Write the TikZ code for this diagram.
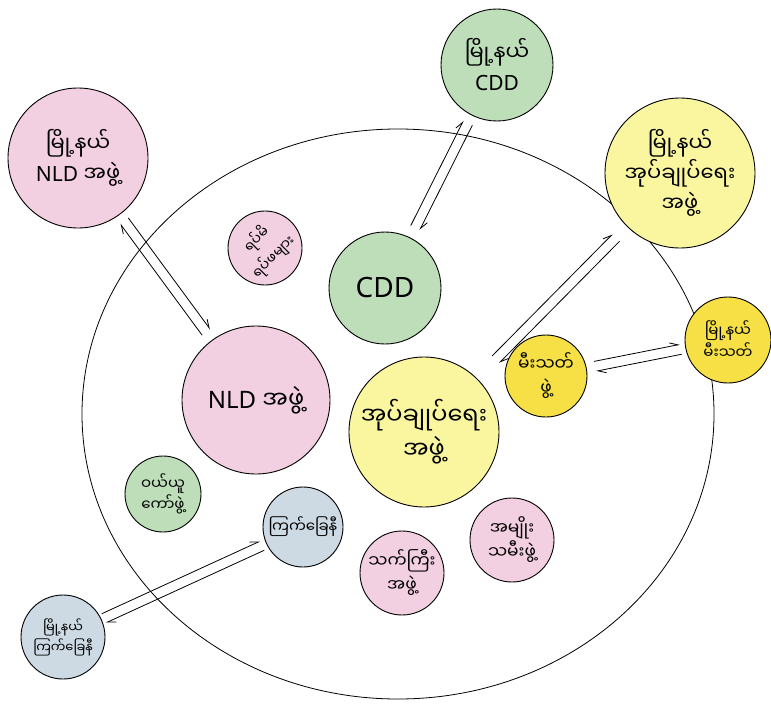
\documentclass[tikz,border=0pt]{standalone}
\usepackage{fontspec}
\setmainfont{Noto Sans}
\newfontfamily\mya[Script=Myanmar]{Noto Sans Myanmar UI}
\usetikzlibrary{arrows.meta,calc}
\definecolor{chappink}{RGB}{242,208,226}
\definecolor{chapgreen}{RGB}{190,222,186}
\definecolor{chapyellow}{RGB}{250,246,160}
\definecolor{chapgold}{RGB}{246,224,70}
\definecolor{chapblue}{RGB}{205,218,228}
\newcommand\lat[1]{{\rmfamily #1}}

\begin{document}
\begin{tikzpicture}[x=1pt,y=-1pt,
  grp/.style={circle,draw=black,line width=0.9pt,inner sep=0pt,align=center,
    font=\mya\fontsize{21}{30}\selectfont},
  smallgrp/.style={grp,font=\mya\fontsize{17}{24}\selectfont},
  flow/.style={line width=0.8pt,-{Straight Barb[harpoon,length=8pt,width=7pt]}}
]
\useasboundingbox (0,0) rectangle (771,709);

% village boundary
\draw[line width=0.8pt] (398,414) ellipse [x radius=316,y radius=285];

% township level (outside)
\node[grp,fill=chappink,minimum size=140pt] (twnnld) at (78,158) {မြို့နယ်\\\lat{NLD} အဖွဲ့};
\node[grp,fill=chapgreen,minimum size=112pt] (twncdd) at (497,65) {မြို့နယ်\\\lat{CDD}};
\node[grp,fill=chapyellow,minimum size=150pt] (twnadm) at (680,173) {မြို့နယ်\\အုပ်ချုပ်ရေး\\အဖွဲ့};
\node[smallgrp,fill=chapgold,minimum size=86pt,font=\mya\fontsize{15}{22}\selectfont] (twnfire) at (728,340) {မြို့နယ်\\မီးသတ်};
\node[smallgrp,fill=chapblue,minimum size=84pt,font=\mya\fontsize{13}{20}\selectfont] (twnred) at (63,637) {မြို့နယ်\\ကြက်ခြေနီ};

% village level (inside)
\node[smallgrp,fill=chappink,minimum size=74pt,font=\mya\fontsize{14}{24}\selectfont,rotate=45] (elders) at (265,248) {ရပ်မိ\\ရပ်ဖများ};
\node[grp,fill=chapgreen,minimum size=112pt,font=\fontsize{28}{30}\selectfont] (cdd) at (385,288) {CDD};
\node[grp,fill=chappink,minimum size=148pt,font=\mya\fontsize{24}{30}\selectfont] (nld) at (256,400) {\lat{NLD} အဖွဲ့};
\node[grp,fill=chapyellow,minimum size=150pt,font=\mya\fontsize{24}{34}\selectfont] (adm) at (424,432) {အုပ်ချုပ်ရေး\\အဖွဲ့};
\node[smallgrp,fill=chapgold,minimum size=82pt] (fire) at (546,376) {မီးသတ်\\ဖွဲ့};
\node[smallgrp,fill=chapgreen,minimum size=76pt,font=\mya\fontsize{15}{21}\selectfont] (buyers) at (163,494) {ဝယ်ယူ\\ကော်ဖွဲ့};
\node[smallgrp,fill=chapblue,minimum size=80pt,font=\mya\fontsize{15}{21}\selectfont] (redx) at (303,527) {ကြက်ခြေနီ};
\node[smallgrp,fill=chappink,minimum size=84pt] (aged) at (402,573) {သက်ကြီး\\အဖွဲ့};
\node[smallgrp,fill=chappink,minimum size=84pt] (women) at (512,540) {အမျိုး\\သမီးဖွဲ့};

% two-way links
\draw[flow] ($(twnnld)!0.26!(nld)!5pt!90:(nld)$) -- ($(twnnld)!0.72!(nld)!5pt!90:(nld)$);
\draw[flow] ($(nld)!0.28!(twnnld)!5pt!90:(twnnld)$) -- ($(nld)!0.74!(twnnld)!5pt!90:(twnnld)$);
\draw[flow] ($(cdd)!0.27!(twncdd)!5pt!90:(twncdd)$) -- ($(cdd)!0.74!(twncdd)!5pt!90:(twncdd)$);
\draw[flow] ($(twncdd)!0.26!(cdd)!5pt!90:(cdd)$) -- ($(twncdd)!0.73!(cdd)!5pt!90:(cdd)$);
\draw[flow] ($(adm)!0.28!(twnadm)!5pt!90:(twnadm)$) -- ($(adm)!0.75!(twnadm)!5pt!90:(twnadm)$);
\draw[flow] ($(twnadm)!0.25!(adm)!5pt!90:(adm)$) -- ($(twnadm)!0.72!(adm)!5pt!90:(adm)$);
\draw[flow] ($(fire)!0.27!(twnfire)!5pt!90:(twnfire)$) -- ($(fire)!0.74!(twnfire)!5pt!90:(twnfire)$);
\draw[flow] ($(twnfire)!0.26!(fire)!5pt!90:(fire)$) -- ($(twnfire)!0.73!(fire)!5pt!90:(fire)$);
\draw[flow] ($(redx)!0.17!(twnred)!5pt!90:(twnred)$) -- ($(redx)!0.83!(twnred)!5pt!90:(twnred)$);
\draw[flow] ($(twnred)!0.17!(redx)!5pt!90:(redx)$) -- ($(twnred)!0.83!(redx)!5pt!90:(redx)$);
\end{tikzpicture}
\end{document}
